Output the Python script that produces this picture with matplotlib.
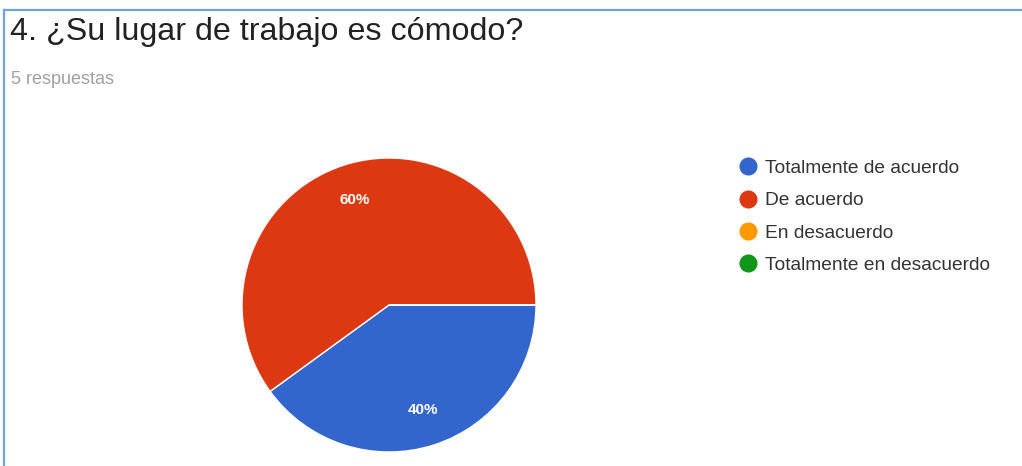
import matplotlib
matplotlib.use("Agg")
import matplotlib.pyplot as plt
from matplotlib.lines import Line2D

plt.rcParams['font.family'] = ['Liberation Sans', 'DejaVu Sans']

# Survey data
title = "4. ¿Su lugar de trabajo es cómodo?"
subtitle = "5 respuestas"
categories = ["Totalmente de acuerdo", "De acuerdo", "En desacuerdo",
              "Totalmente en desacuerdo"]
counts = [2, 3, 0, 0]
colors = ["#3366CC", "#DC3912", "#FF9900", "#109618"]

W, H = 1022, 466
fig = plt.figure(figsize=(W / 100, H / 100), dpi=100)
fig.patch.set_facecolor("white")


def px(x, y):
    """Pixel position (from top-left) to figure fraction."""
    return x / W, 1 - y / H


# Card border (top and left edges)
border_col = "#6FA3DC"
x0, y0 = px(4, 10)
fig.add_artist(Line2D([x0, 1.0], [y0, y0], color=border_col, lw=1.6,
                      transform=fig.transFigure))
fig.add_artist(Line2D([x0, x0], [y0, 0.0], color=border_col, lw=1.6,
                      transform=fig.transFigure))

# Header texts
tx, ty = px(10, 32)
fig.text(tx, ty, title, fontsize=23.2, color="#222222", va="center", ha="left")
sx, sy = px(11, 79)
fig.text(sx, sy, subtitle, fontsize=13, color="#A0A0A0", va="center", ha="left")

# Pie chart
cx, cy, r = 389, 305, 147
ax = fig.add_axes([(cx - r) / W, (H - cy - r) / H, 2 * r / W, 2 * r / H])


def fmt_pct(p):
    return f"{p:.0f}%" if p > 0 else ""


wedges, _, autotexts = ax.pie(
    counts, colors=colors, startangle=0, counterclock=False, radius=1.0,
    autopct=fmt_pct, pctdistance=0.75,
    wedgeprops=dict(edgecolor="white", linewidth=1.0),
    textprops=dict(color="white", fontsize=11, fontweight="bold"),
)
ax.set_xlim(-1, 1)
ax.set_ylim(-1, 1)
ax.set_aspect("equal")
ax.axis("off")

# Legend
handles = [Line2D([0], [0], marker="o", linestyle="none", markersize=12,
                  markerfacecolor=c, markeredgecolor=c) for c in colors]
lx, ly = px(727, 150)
fig.legend(handles, categories, loc="upper left", bbox_to_anchor=(lx, ly),
           frameon=False, fontsize=13.8, labelcolor="#333333",
           handletextpad=0.3, labelspacing=0.78, borderpad=0, handlelength=1.2)

fig.savefig("out.png", dpi=100, facecolor="white")
